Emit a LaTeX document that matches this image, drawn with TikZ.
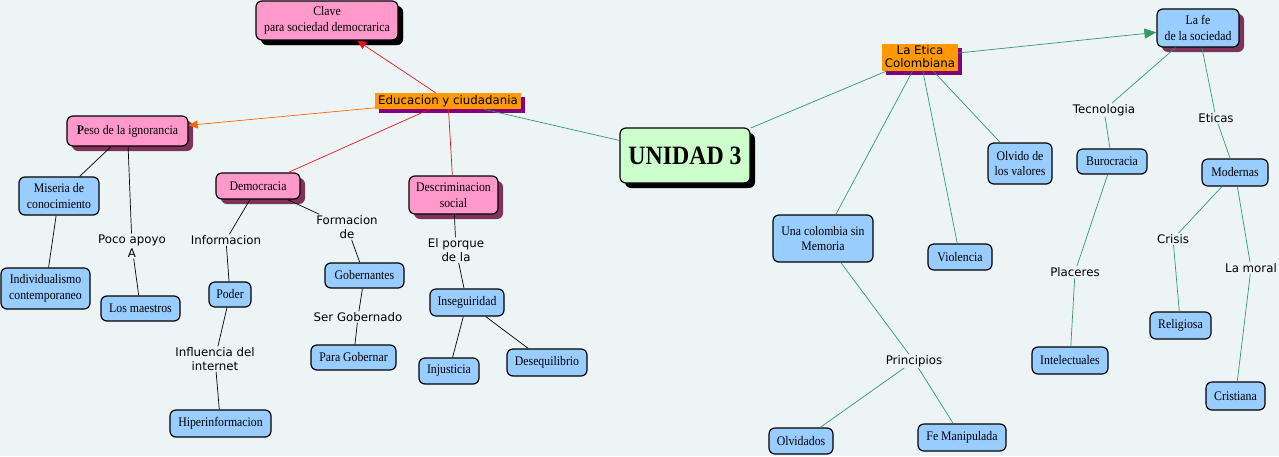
\documentclass[tikz,border=0pt]{standalone}
\usepackage{fontspec}
\setmainfont{Liberation Serif}[FakeStretch=0.9]
\newfontfamily\lblfont{DejaVu Sans}
\usetikzlibrary{shadows,arrows.meta}
\definecolor{bgcol}{HTML}{EDF4F6}
\definecolor{cpink}{HTML}{FF99CC}
\definecolor{cblue}{HTML}{99CCFF}
\definecolor{cmint}{HTML}{CCFFCC}
\definecolor{corange}{HTML}{FF9900}
\definecolor{cmaroon}{HTML}{80335A}
\definecolor{cpurple}{HTML}{800080}
\definecolor{cgreen}{HTML}{339966}
\definecolor{cred}{HTML}{E8141E}
\definecolor{corline}{HTML}{FF6600}

\begin{document}
\begin{tikzpicture}[x=1pt,y=-1pt,>={Triangle[length=9pt,width=8pt]},
  concept/.style={draw,line width=1.2pt,rounded corners=6pt,fill=cblue,align=center,inner sep=1pt,font=\fontsize{13.1}{15.5}\selectfont},
  pinkc/.style={concept,fill=cpink,drop shadow={shadow xshift=5pt,shadow yshift=-5pt,fill=cmaroon,opacity=1}},
  topic/.style={fill=corange,align=center,inner sep=1pt,font=\lblfont\fontsize{11.8}{13}\selectfont,drop shadow={shadow xshift=4pt,shadow yshift=-4pt,fill=cpurple,opacity=1}},
  phrase/.style={align=center,inner sep=1pt,font=\lblfont\fontsize{11.8}{14}\selectfont},
  blk/.style={draw=black,line width=0.7pt},
  grn/.style={draw=cgreen,line width=0.7pt}]
  \fill[bgcol] (0,0) rectangle (1279,456);
  \useasboundingbox (0,0) rectangle (1279,456);

  % left half
  \node[pinkc,drop shadow={shadow xshift=5pt,shadow yshift=-5pt,fill=black,opacity=1},minimum width=142,minimum height=39] (clave) at (327,20.5) {Clave\\para sociedad democrarica};
  \node[topic,minimum width=146,minimum height=16] (educ) at (448,101) {Educacion y ciudadania};
  \node[pinkc,minimum width=121,minimum height=30] (peso) at (127.5,131) {\textbf{P}eso de la ignorancia};
  \node[concept,minimum width=80,minimum height=38] (miseria) at (59,196) {Miseria de\\conocimiento};
  \node[concept,minimum width=89,minimum height=41] (indiv) at (45.5,288.5) {Individualismo\\contemporaneo};
  \node[phrase] (poco) at (132,246) {Poco apoyo\\A};
  \node[concept,minimum width=79,minimum height=25] (maestros) at (140.5,308.5) {Los maestros};
  \node[pinkc,minimum width=84,minimum height=26] (democ) at (258,186) {Democracia};
  \node[phrase] (info) at (226,240) {Informacion};
  \node[concept,minimum width=42,minimum height=25] (poder) at (230,294.5) {Poder};
  \node[phrase] (influ) at (215,359) {Influencia del\\internet};
  \node[concept,minimum width=101,minimum height=27] (hiper) at (220.5,423.5) {Hiperinformacion};
  \node[phrase] (forma) at (347,227) {Formacion\\de};
  \node[concept,minimum width=79,minimum height=25] (gober) at (364.5,275.5) {Gobernantes};
  \node[phrase] (ser) at (358,317) {Ser Gobernado};
  \node[concept,minimum width=85,minimum height=25] (para) at (353.5,357.5) {Para Gobernar};
  \node[pinkc,minimum width=89,minimum height=38] (descr) at (453.5,195) {Descriminacion\\social};
  \node[phrase] (porque) at (456,250) {El porque\\de la};
  \node[concept,minimum width=74,minimum height=27] (inseg) at (467,302.5) {Inseguiridad};
  \node[concept,minimum width=60,minimum height=26] (injus) at (449,371) {Injusticia};
  \node[concept,minimum width=80,minimum height=27] (deseq) at (547,362.5) {Desequilibrio};

  % center
  \node[concept,fill=cmint,drop shadow={shadow xshift=5pt,shadow yshift=-5pt,fill=black,opacity=1},minimum width=130,minimum height=55,font=\fontsize{26.5}{30}\selectfont\bfseries] (unidad) at (685,155.5) {UNIDAD 3};

  % right half
  \node[topic,minimum width=76,minimum height=27] (etica) at (920,57) {La Etica\\Colombiana};
  \node[concept,drop shadow={shadow xshift=5pt,shadow yshift=-5pt,fill=cmaroon,opacity=1},minimum width=82,minimum height=38] (lafe) at (1198,28) {La fe\\de la sociedad};
  \node[phrase] (tecno) at (1104,110) {Tecnologia};
  \node[phrase] (eticas) at (1216,118) {Eticas};
  \node[concept,minimum width=70,minimum height=25] (buro) at (1112,161.5) {Burocracia};
  \node[concept,minimum width=66,minimum height=27] (moder) at (1235,172.5) {Modernas};
  \node[concept,minimum width=64,minimum height=41] (olvido) at (1020,163.5) {Olvido de\\los valores};
  \node[concept,minimum width=100,minimum height=47] (colom) at (823,238.5) {Una colombia sin\\Memoria};
  \node[concept,minimum width=64,minimum height=26] (viol) at (960,257) {Violencia};
  \node[phrase] (placer) at (1075,272) {Placeres};
  \node[phrase] (crisis) at (1173,239) {Crisis};
  \node[phrase] (moral) at (1251,268) {La moral};
  \node[concept,minimum width=61,minimum height=27] (relig) at (1180.5,325.5) {Religiosa};
  \node[concept,minimum width=76,minimum height=27] (intel) at (1070,360.5) {Intelectuales};
  \node[concept,minimum width=59,minimum height=28] (crist) at (1235.5,396) {Cristiana};
  \node[phrase] (princ) at (914,361) {Principios};
  \node[concept,minimum width=64,minimum height=26] (olvid) at (801,441) {Olvidados};
  \node[concept,minimum width=88,minimum height=27] (fema) at (962,437.5) {Fe Manipulada};

  % links
  \draw[->,cred,line width=0.7pt] (educ) -- (clave);
  \draw[->,corline,line width=0.7pt] (educ) -- (peso);
  \draw[cred,line width=0.7pt] (educ) -- (democ);
  \draw[cred,line width=0.7pt] (educ) -- (descr);
  \draw[grn] (educ) -- (unidad);
  \draw[grn] (unidad) -- (etica);
  \draw[->,grn,>={Triangle[length=12pt,width=10pt]}] (etica) -- (lafe);

  \draw[blk] (peso) -- (miseria);
  \draw[blk] (miseria) -- (indiv);
  \draw[blk] (peso) -- (poco) -- (maestros);
  \draw[blk] (democ) -- (info) -- (poder) -- (influ) -- (hiper);
  \draw[blk] (democ) -- (forma) -- (gober) -- (ser) -- (para);
  \draw[blk] (descr) -- (porque) -- (inseg);
  \draw[blk] (inseg) -- (injus);
  \draw[blk] (inseg) -- (deseq);

  \draw[grn] (etica) -- (colom);
  \draw[grn] (etica) -- (viol);
  \draw[grn] (etica) -- (olvido);
  \draw[grn] (lafe) -- (tecno) -- (buro) -- (placer) -- (intel);
  \draw[grn] (lafe) -- (eticas) -- (moder);
  \draw[grn] (moder) -- (crisis) -- (relig);
  \draw[grn] (moder) -- (moral) -- (crist);
  \draw[grn] (colom) -- (princ) -- (olvid);
  \draw[grn] (princ) -- (fema);
\end{tikzpicture}
\end{document}
